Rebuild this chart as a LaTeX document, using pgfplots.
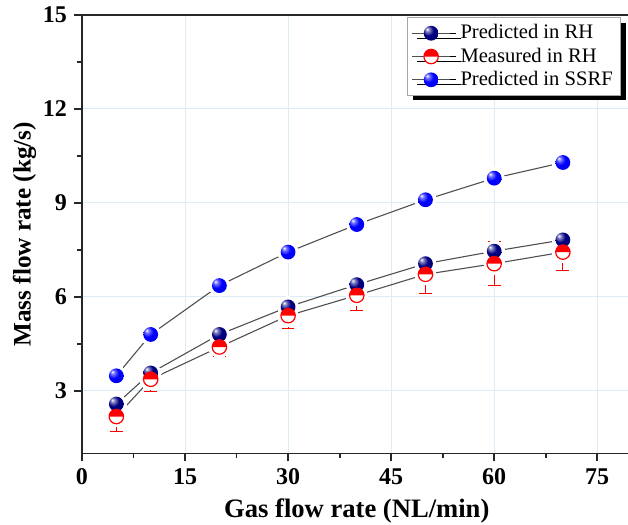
\documentclass[border=0pt]{standalone}
\usepackage{pgfplots}
\pgfplotsset{compat=1.18}
\usepackage{fontspec}
\setmainfont{Liberation Serif}
\usetikzlibrary{shadows,calc}

\definecolor{gridc}{RGB}{222,236,246}
\definecolor{linec}{RGB}{80,80,80}
\definecolor{navyc}{RGB}{0,0,128}
\definecolor{bluec}{RGB}{0,0,255}

\pgfdeclareradialshading{bblue}{\pgfpoint{-14bp}{14bp}}{%
  color(0bp)=(white); color(7bp)=(bluec!55!white); color(18bp)=(bluec);
  color(45bp)=(bluec!92!black); color(60bp)=(bluec!80!black)}
\pgfdeclareradialshading{bnavy}{\pgfpoint{-14bp}{14bp}}{%
  color(0bp)=(white); color(7bp)=(navyc!50!white); color(18bp)=(navyc);
  color(45bp)=(navyc!90!black); color(60bp)=(navyc!75!black)}

\pgfdeclareplotmark{blueball}{%
  \pgfpathcircle{\pgfpointorigin}{\pgfplotmarksize}%
  \pgfshadepath{bblue}{0}%
  \pgfusepath{discard}%
}
\pgfdeclareplotmark{navyball}{%
  \pgfpathcircle{\pgfpointorigin}{\pgfplotmarksize}%
  \pgfshadepath{bnavy}{0}%
  \pgfusepath{discard}%
}
\pgfdeclareplotmark{halfball}{%
  \pgfpathcircle{\pgfpointorigin}{\pgfplotmarksize}%
  \pgfsetfillcolor{white}%
  \pgfusepathqfill
  \pgfpathmoveto{\pgfqpoint{\pgfplotmarksize}{0pt}}%
  \pgfpatharc{0}{180}{\pgfplotmarksize}%
  \pgfpathclose
  \pgfsetfillcolor{red}%
  \pgfusepathqfill
  \pgfpathcircle{\pgfpointorigin}{\pgfplotmarksize}%
  \pgfsetstrokecolor{red}%
  \pgfusepathqstroke
}

\pgfplotstableread{
x y
5 3.48
10 4.80
20 6.36
30 7.43
40 8.31
50 9.10
60 9.79
70 10.29
}\ssrf

\pgfplotstableread{
x y
5 2.58
10 3.57
20 4.80
30 5.68
40 6.39
50 7.06
60 7.46
70 7.82
}\predrh

\pgfplotstableread{
x y e
5 2.18 0.48
10 3.37 0.38
20 4.40 0.30
30 5.40 0.41
40 6.05 0.50
50 6.72 0.60
60 7.06 0.71
70 7.43 0.59
}\measrh

\begin{document}
\begin{tikzpicture}
\begin{axis}[
  name=ax,
  scale only axis,
  width=274.8pt, height=219.25pt,
  xmin=0, xmax=80, ymin=1, ymax=15,
  xtick={0,15,30,45,60,75},
  ytick={3,6,9,12,15},
  minor x tick num=1, minor y tick num=1,
  axis x line*=box, axis y line*=left,
  tick pos=left,
  tick align=outside,
  major tick length=4pt, minor tick length=2.5pt,
  grid=major,
  major grid style={gridc, line width=0.5pt},
  axis line style={black!85, line width=0.9pt},
  every tick/.style={black!85, line width=0.9pt},
  /pgf/number format/assume math mode=true,
  ticklabel style={font=\fontsize{12}{14}\selectfont\bfseries},
  xlabel style={font=\fontsize{13.3}{15}\selectfont\bfseries},
  ylabel style={font=\fontsize{12.6}{15}\selectfont\bfseries},
  ylabel shift=-3.5pt,
  xlabel={Gas flow rate (NL/min)},
  ylabel={Mass flow rate (kg/s)},
  legend style={at={(axis description cs:0.981,0.995)}, anchor=north east,
    draw=gray!70, fill=white, font=\fontsize{10.3}{11}\selectfont,
    drop shadow={shadow xshift=2.5pt, shadow yshift=-2.5pt, fill=black, opacity=1},
    inner xsep=2pt, inner ysep=1.5pt, row sep=-1pt, cells={anchor=west}},
  legend image code/.code={\path (0pt,0pt) -- (22pt,0pt); \draw[linec, line width=0.5pt] (0pt,0pt) -- (19pt,0pt); \draw[#1] plot coordinates {(9.5pt,0pt)};},
]
% connecting lines
\addplot[linec, line width=0.55pt, forget plot] table[x=x,y=y] {\ssrf};
\addplot[linec, line width=0.55pt, forget plot] table[x=x,y=y] {\predrh};
\addplot[linec, line width=0.55pt, forget plot] table[x=x,y=y] {\measrh};
% white halos
\addplot[white, only marks, mark=*, mark size=5.2pt, mark options={fill=white, draw=white, line width=0pt}, forget plot] table[x=x,y=y] {\ssrf};
\addplot[white, only marks, mark=*, mark size=5.2pt, mark options={fill=white, draw=white, line width=0pt}, forget plot] table[x=x,y=y] {\predrh};
\addplot[white, only marks, mark=*, mark size=5.2pt, mark options={fill=white, draw=white, line width=0pt}, forget plot] table[x=x,y=y] {\measrh};
% markers
\addplot[only marks, mark=navyball, mark size=3.7pt] table[x=x,y=y] {\predrh};
\addlegendentry{Predicted in RH}
\addplot[only marks, mark=halfball, mark size=3.6pt, mark options={line width=0.6pt},
  error bars/.cd, y dir=both, y explicit,
  error bar style={red, line width=0.5pt},
  error mark options={rotate=90, red, mark size=3.2pt, line width=0.5pt}]
  table[x=x,y=y,y error=e] {\measrh};
\addlegendentry{Measured in RH}
\addplot[only marks, mark=blueball, mark size=3.7pt] table[x=x,y=y] {\ssrf};
\addlegendentry{Predicted in SSRF}
\end{axis}
\pgfresetboundingbox
\path ($(ax.south west)+(-41pt,-35.75pt)$) rectangle ($(ax.south west)+(273pt,226.75pt)$);
\end{tikzpicture}
\end{document}
